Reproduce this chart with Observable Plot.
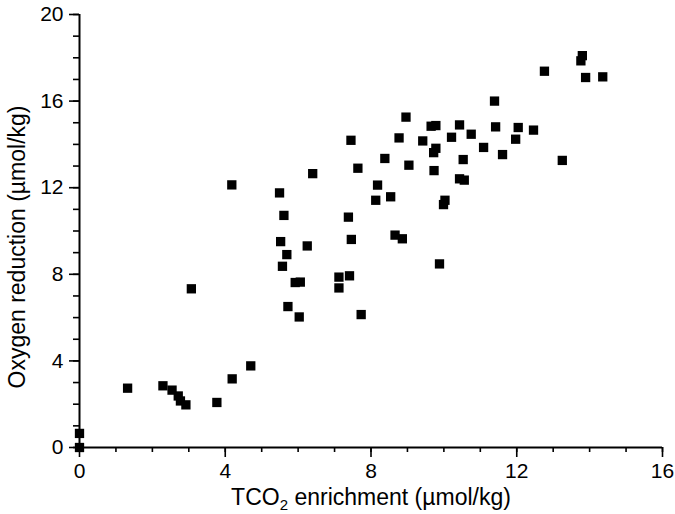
<!DOCTYPE html>
<html><head><meta charset="utf-8">
<script src="https://cdn.jsdelivr.net/npm/d3@7"></script>
<script src="https://cdn.jsdelivr.net/npm/@observablehq/plot@0.6"></script>
<style>body{margin:0;background:#fff} svg{display:block}</style>
</head><body><div id="chart"></div>
<script>
// TCO2 enrichment (µmol/kg)
const tco2 = [
  0, 0, 1.32, 2.29, 2.54, 2.71, 2.77, 2.92, 3.77, 4.19, 4.70, 3.07,
  4.18, 7.45, 6.40, 7.64, 5.49, 5.61, 7.38, 5.52, 6.25, 7.46,
  8.38, 9.04, 9.72, 9.73, 8.18, 8.13, 8.54, 8.66, 8.86, 5.69,
  5.57, 9.88, 5.92, 6.06, 7.12, 7.41, 7.12, 5.72, 6.03, 7.73,
  11.39, 9.65, 9.78, 10.43, 11.42, 12.04, 12.46, 9.42, 10.21, 10.75,
  9.78, 11.09, 11.97, 11.61, 10.53, 13.25, 10.43, 10.56, 10.03, 9.99,
  8.96, 8.77, 12.76, 13.80, 13.76, 13.89, 14.36
];
// Oxygen reduction (µmol/kg)
const oxygen = [
  0.65, 0, 2.74, 2.85, 2.65, 2.38, 2.15, 1.97, 2.08, 3.17, 3.77, 7.33,
  12.13, 14.19, 12.65, 12.90, 11.76, 10.72, 10.64, 9.51, 9.31, 9.61,
  13.35, 13.04, 13.62, 12.79, 12.12, 11.42, 11.58, 9.81, 9.64, 8.91,
  8.37, 8.48, 7.62, 7.64, 7.87, 7.93, 7.37, 6.51, 6.03, 6.14,
  16.00, 14.84, 14.87, 14.90, 14.81, 14.78, 14.66, 14.16, 14.33, 14.47,
  13.82, 13.86, 14.24, 13.53, 13.30, 13.26, 12.41, 12.35, 11.42, 11.22,
  15.26, 14.30, 17.38, 18.10, 17.86, 17.09, 17.12
];
const xMajorTicks = [0, 4, 8, 12, 16];
const yMajorTicks = [0, 4, 8, 12, 16, 20];
const xMinorTicks = [0,1,2,3,4,5,6,7,8,9,10,11,12,13,14,15,16];
const yMinorTicks = [0,1,2,3,4,5,6,7,8,9,10,11,12,13,14,15,16,17,18,19,20];
const xTitle = ["TCO", "2", " enrichment (\u00b5mol/kg)"];
const yTitle = "Oxygen reduction (\u00b5mol/kg)";

const data = tco2.map((x, i) => ({x, y: oxygen[i]}));
const font = "'Liberation Sans', Arial, Helvetica, sans-serif";

const svg = Plot.plot({
  width: 675, height: 514,
  marginLeft: 79, marginRight: 13, marginTop: 14, marginBottom: 67,
  style: {fontFamily: font, fontSize: "21px", color: "#000", background: "#fff", overflow: "visible"},
  x: {domain: [0, 16], label: null},
  y: {domain: [0, 20], label: null},
  marks: [
    Plot.axisX(xMinorTicks, {tickSize: 5, tickFormat: () => "", strokeWidth: 1.6, label: null}),
    Plot.axisX(xMajorTicks, {tickSize: 10, tickPadding: 6, strokeWidth: 1.6, label: null, fontSize: 21}),
    Plot.axisY(yMinorTicks, {tickSize: 6, tickFormat: () => "", strokeWidth: 1.6, label: null}),
    Plot.axisY(yMajorTicks, {tickSize: 10, tickPadding: 6, strokeWidth: 1.6, label: null, fontSize: 21}),
    Plot.ruleX([0], {stroke: "#000", strokeWidth: 2}),
    Plot.ruleY([0], {stroke: "#000", strokeWidth: 2}),
    Plot.dot(data, {x: "x", y: "y", symbol: "square", r: 5.25, fill: "#000", stroke: "none"})
  ]
});

const s = d3.select(svg);
const xt = s.append("text")
  .attr("x", 371).attr("y", 505)
  .attr("text-anchor", "middle")
  .attr("font-family", font).attr("font-size", 23).attr("fill", "#000");
xt.append("tspan").text(xTitle[0]);
xt.append("tspan").attr("font-size", 15).attr("dy", 5).text(xTitle[1]);
xt.append("tspan").attr("dy", -5).text(xTitle[2]);

s.append("text")
  .attr("transform", "translate(25,247) rotate(-90)")
  .attr("text-anchor", "middle")
  .attr("font-family", font).attr("font-size", 23).attr("fill", "#000")
  .text(yTitle);

document.getElementById("chart").appendChild(svg);
</script>
</body></html>
